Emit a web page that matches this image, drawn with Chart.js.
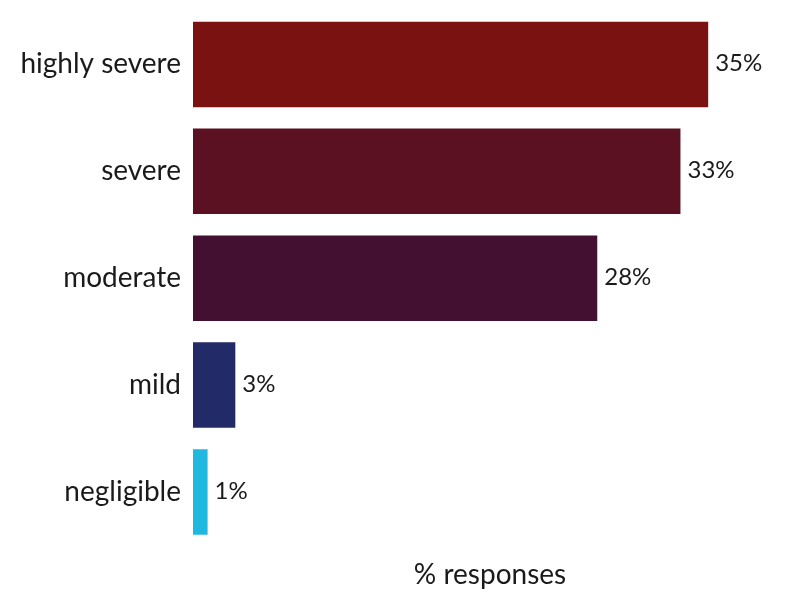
<!DOCTYPE html>
<html>
<head>
<meta charset="utf-8">
<script src="https://cdn.jsdelivr.net/npm/chart.js@4/dist/chart.umd.min.js"></script>
<style>
html,body{margin:0;padding:0;background:#fff;}
#wrap{width:800px;height:603px;}
</style>
</head>
<body>
<div id="wrap"><canvas id="c" width="800" height="603"></canvas></div>
<script>
const categories = ["highly severe", "severe", "moderate", "mild", "negligible"];
const values = [35.3, 33.4, 27.7, 2.9, 1.0];
const barColors = ["#7A1212", "#5C1123", "#441032", "#232A68", "#20B8DF"];
const axisTitle = "% responses";
const xMax = 40.7;

const FONT = "Lato, 'Open Sans', sans-serif";

const valueLabels = {
  id: "valueLabels",
  afterDatasetsDraw(chart) {
    const ctx = chart.ctx;
    const meta = chart.getDatasetMeta(0);
    ctx.save();
    ctx.font = "24px " + FONT;
    ctx.fillStyle = "#1a1a1a";
    ctx.textAlign = "left";
    ctx.textBaseline = "middle";
    meta.data.forEach((bar, i) => {
      ctx.fillText(Math.round(values[i]) + "%", bar.x + 7, bar.y - 1);
    });
    ctx.restore();
  }
};

new Chart(document.getElementById("c"), {
  type: "bar",
  data: {
    labels: categories,
    datasets: [{
      data: values,
      backgroundColor: barColors,
      borderWidth: 0,
      barPercentage: 0.8,
      categoryPercentage: 1.0
    }]
  },
  options: {
    indexAxis: "y",
    responsive: false,
    animation: false,
    layout: { padding: { left: 0, right: 13, top: 11, bottom: 11 } },
    plugins: { legend: { display: false }, tooltip: { enabled: false } },
    scales: {
      x: {
        min: 0, max: xMax,
        grid: { display: false, drawTicks: false },
        border: { display: false },
        ticks: { display: false },
        title: {
          display: true, text: axisTitle, color: "#1a1a1a",
          font: { family: FONT, size: 28 }, padding: { top: 13, bottom: 0 }
        }
      },
      y: {
        grid: { display: false, drawTicks: false },
        border: { display: false },
        ticks: { color: "#1a1a1a", font: { family: FONT, size: 28 }, padding: 12 },
        afterFit(scale) { scale.width = 193; scale.paddingTop = 0; scale.paddingBottom = 0; }
      }
    }
  },
  plugins: [valueLabels]
});
</script>
</body>
</html>
